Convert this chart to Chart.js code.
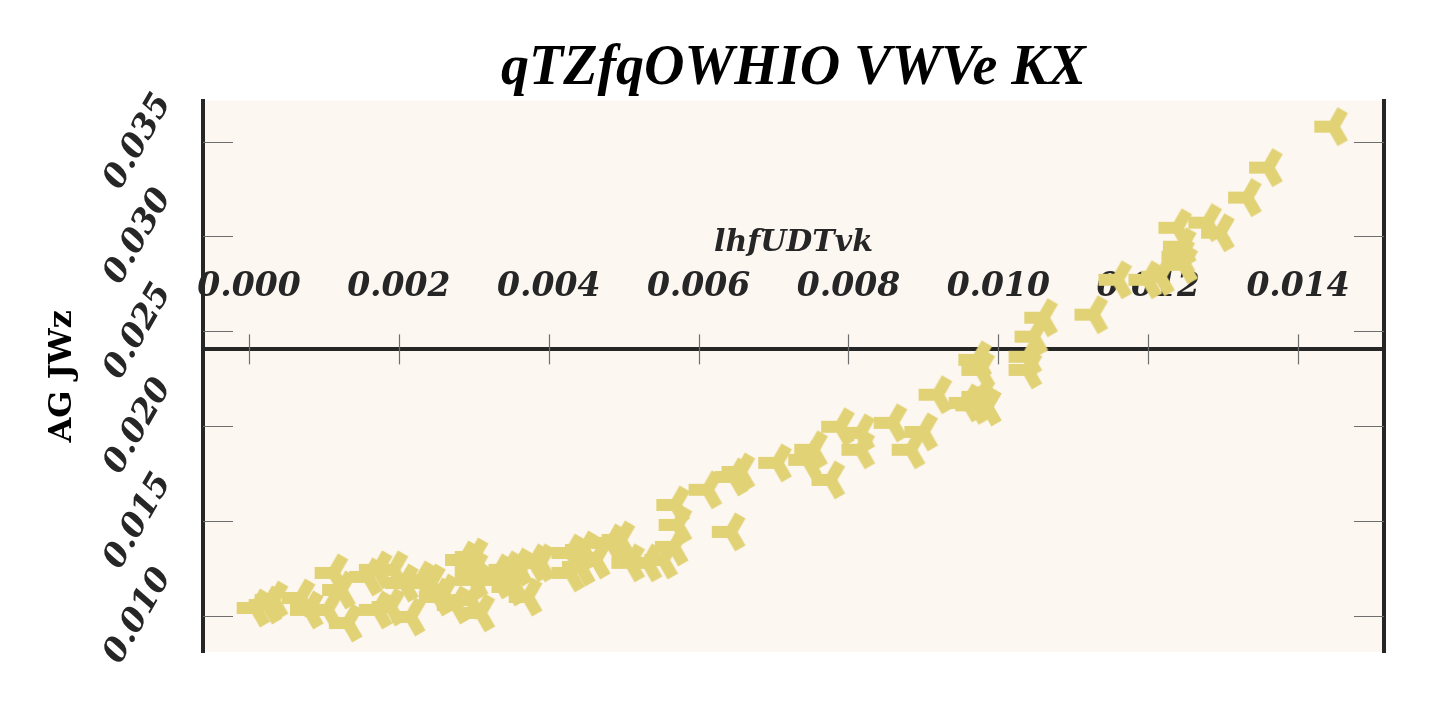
<!DOCTYPE html>
<html><head><meta charset="utf-8">
<script src="https://cdn.jsdelivr.net/npm/chart.js@4.4.0/dist/chart.umd.min.js"></script>
<style>html,body{margin:0;padding:0;background:#fff;}#wrap{width:1440px;height:720px;}</style>
</head><body><div id="wrap"><canvas id="c" width="1440" height="720"></canvas></div>
<script>
const chartTitle = 'qTZfqOWHIO VWVe KX';
const xTitle = 'lhfUDTvk';
const yTitle = 'AG JWz';
const xTicks = [0.000, 0.002, 0.004, 0.006, 0.008, 0.010, 0.012, 0.014];
const yTicks = [0.010, 0.015, 0.020, 0.025, 0.030, 0.035];
const xAxisAt = 0.02405;
const xValues = [0.00009,0.00025,0.00033,0.00069,0.00080,0.00113,0.00123,0.00105,0.00132,0.00159,
0.00172,0.00193,0.00189,0.00172,0.00207,0.00216,0.00229,0.00252,0.00287,0.00300,
0.00296,0.00309,0.00332,0.00349,0.00359,0.00389,0.00372,0.00260,0.00243,0.00300,
0.00300,0.00345,0.00332,0.00353,0.00380,0.00429,0.00429,0.00443,0.00447,0.00483,
0.00496,0.00509,0.00532,0.00553,0.00567,0.00572,0.00569,0.00612,0.00647,0.00656,
0.00643,0.00705,0.00745,0.00753,0.00776,0.00816,0.00789,0.00816,0.00859,0.00900,
0.00883,0.00919,0.00959,0.00968,0.00985,0.00976,0.00972,0.00976,0.01039,0.01039,
0.01047,0.01060,0.01127,0.01159,0.01216,0.01243,0.01247,0.01245,0.01239,0.01279,
0.01296,0.01332,0.01360,0.01447,0.01199,0.00463,0.00276];
const yValues = [0.01042,0.01058,0.01084,0.01095,0.01032,0.01227,0.01137,0.01032,0.00963,0.01206,
0.01243,0.01243,0.01047,0.01032,0.01174,0.00995,0.01190,0.01100,0.01295,0.01243,
0.01084,0.01016,0.01227,0.01153,0.01258,0.01280,0.01100,0.01121,0.01174,0.01311,
0.01190,0.01243,0.01190,0.01174,0.01280,0.01332,0.01227,0.01258,0.01348,0.01385,
0.01401,0.01280,0.01280,0.01295,0.01364,0.01480,0.01585,0.01665,0.01733,0.01759,
0.01443,0.01807,0.01823,0.01876,0.01717,0.01876,0.01997,0.01965,0.02018,0.01970,
0.01876,0.02166,0.02123,0.02110,0.02102,0.02155,0.02350,0.02297,0.02297,0.02366,
0.02472,0.02572,0.02588,0.02772,0.02788,0.02893,0.02851,0.02946,0.03046,0.03073,
0.03020,0.03205,0.03363,0.03579,0.02772,0.01295,0.01058];

const MARK = 'rgb(225,210,118)';
const INK = '#262626';

function makeTri(color){
  const s = 60, c = document.createElement('canvas');
  c.width = s; c.height = s;
  const g = c.getContext('2d');
  g.strokeStyle = color; g.lineWidth = 12; g.lineCap = 'butt';
  const cx = s/2, cy = s/2, L = 19;
  [180, 60, -60].forEach(a => {
    const r = a*Math.PI/180, dx = Math.cos(r), dy = -Math.sin(r);
    g.beginPath(); g.moveTo(cx - 2*dx, cy - 2*dy); g.lineTo(cx + L*dx, cy + L*dy); g.stroke();
  });
  return c;
}
const tri = makeTri(MARK);

const bgPlugin = {
  id: 'bg',
  beforeDraw(chart){
    const {ctx, chartArea: a} = chart;
    ctx.save(); ctx.fillStyle = '#fdf7f2';
    ctx.fillRect(a.left, a.top, a.right - a.left, a.bottom - a.top);
    ctx.restore();
  }
};
const tickPlugin = {
  id: 'inTicks',
  beforeDatasetsDraw(chart){
    const {ctx, chartArea: a, scales: {x, y}} = chart;
    ctx.save(); ctx.strokeStyle = '#6e6e6e'; ctx.lineWidth = 1.2;
    const ya = y.getPixelForValue(xAxisAt);
    x.ticks.forEach(t => {
      const px = Math.round(x.getPixelForValue(t.value)) + 0.5;
      ctx.beginPath(); ctx.moveTo(px, ya - 15); ctx.lineTo(px, ya + 15); ctx.stroke();
    });
    y.ticks.forEach(t => {
      const py = Math.round(y.getPixelForValue(t.value)) + 0.5;
      ctx.beginPath();
      ctx.moveTo(a.left, py); ctx.lineTo(a.left + 30, py);
      ctx.moveTo(a.right - 30, py); ctx.lineTo(a.right, py);
      ctx.stroke();
    });
    ctx.restore();
  }
};

const tickFont = {family: 'DejaVu Serif', size: 33, weight: 'bold', style: 'italic'};

new Chart(document.getElementById('c'), {
  type: 'scatter',
  data: {
    datasets: [{
      data: xValues.map((v, i) => ({x: v, y: yValues[i]})),
      pointStyle: tri, pointRadius: 12, pointHoverRadius: 12,
      backgroundColor: MARK, borderColor: MARK, borderWidth: 0
    }]
  },
  options: {
    responsive: false, animation: false, devicePixelRatio: 1,
    layout: {padding: {left: 0, right: 56, top: 0, bottom: 68}},
    plugins: {
      legend: {display: false}, tooltip: {enabled: false},
      title: {display: true, text: chartTitle, fullSize: false, color: '#000',
        font: {family: 'Liberation Serif', size: 56, weight: 'bold', style: 'italic', lineHeight: 1.1},
        padding: {top: 39, bottom: 0}}
    },
    scales: {
      x: {
        type: 'linear', axis: 'x', position: {y: xAxisAt},
        min: -0.000613, max: 0.015147,
        afterBuildTicks: s => { s.ticks = xTicks.map(v => ({value: v})); },
        ticks: {callback: v => v.toFixed(3), font: tickFont, color: INK, padding: -82, maxRotation: 0, minRotation: 0, autoSkip: false},
        grid: {display: true, drawOnChartArea: false, drawTicks: false},
        border: {display: true, width: 4, color: INK},
        title: {display: true, text: xTitle, color: INK, padding: {top: 0, bottom: 0},
          font: {family: 'DejaVu Serif', size: 30, weight: 'bold', style: 'italic'}}
      },
      y: {
        type: 'linear', position: 'left',
        min: 0.008101, max: 0.037162,
        afterBuildTicks: s => { s.ticks = yTicks.map(v => ({value: v})); },
        afterFit: s => { s.width = 203; },
        ticks: {callback: v => v.toFixed(3), font: tickFont, color: INK, padding: 13, minRotation: 60, maxRotation: 60, crossAlign: 'center', autoSkip: false},
        grid: {display: true, drawOnChartArea: false, drawTicks: false},
        border: {display: true, width: 4, color: INK},
        title: {display: true, text: yTitle, color: '#000', padding: {top: 43, bottom: 0},
          font: {family: 'DejaVu Serif', size: 32, weight: 'bold'}}
      },
      yr: {
        type: 'linear', position: 'right',
        min: 0.008101, max: 0.037162,
        ticks: {display: false},
        grid: {display: true, drawOnChartArea: false, drawTicks: false},
        border: {display: true, width: 4, color: INK}
      }
    }
  },
  plugins: [bgPlugin, tickPlugin]
});
</script>
</body></html>
